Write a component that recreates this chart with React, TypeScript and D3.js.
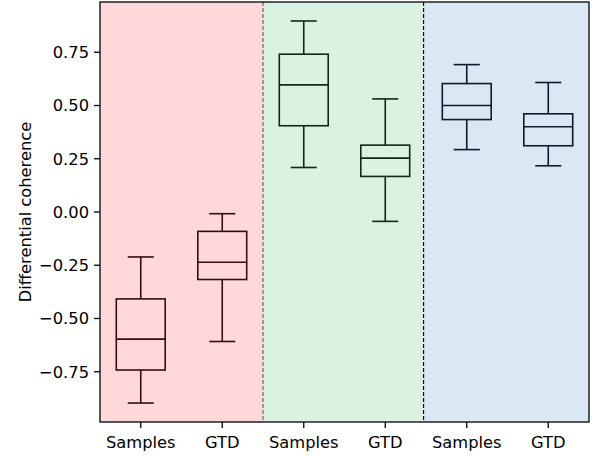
import React from 'react';
import * as d3 from 'd3';

const categories = ['Samples', 'GTD', 'Samples', 'GTD', 'Samples', 'GTD'];
const whiskerHigh = [-0.211, -0.008, 0.897, 0.531, 0.692, 0.608];
const q3 = [-0.408, -0.091, 0.741, 0.314, 0.603, 0.461];
const medians = [-0.597, -0.236, 0.597, 0.253, 0.5, 0.4];
const q1 = [-0.742, -0.317, 0.405, 0.167, 0.434, 0.311];
const whiskerLow = [-0.897, -0.608, 0.209, -0.044, 0.293, 0.217];
const groupOf = [0, 0, 1, 1, 2, 2];

const regionBounds = [-0.5, 1.5, 3.47, 5.5];
const regionFill = ['#ffd9d9', '#dbf2e3', '#d9e8f3'];
const strokeColors = ['#3b0a0f', '#0c2a17', '#0b1b2b'];
const sepColors = ['#666666', '#000000'];
const yTicks = [-0.75, -0.5, -0.25, 0, 0.25, 0.5, 0.75];

export default function App() {
  const W = 594;
  const H = 456;
  const margin = { top: 2, right: 5, bottom: 34, left: 100 };
  const x = d3.scaleLinear().domain([-0.5, 5.5]).range([margin.left, W - margin.right]);
  const y = d3.scaleLinear().domain([-0.986, 0.986]).range([H - margin.bottom, margin.top]);
  const boxW = 0.6;
  const capW = 0.32;
  const font = 'DejaVu Sans, sans-serif';
  const fs = 16.3;

  return (
    <svg width={W} height={H} style={{ position: 'absolute', left: 0, top: 0 }}>
      {regionFill.map((c, i) => (
        <rect key={i} x={x(regionBounds[i])} y={y(0.986)} width={x(regionBounds[i + 1]) - x(regionBounds[i])}
          height={y(-0.986) - y(0.986)} fill={c} />
      ))}
      {sepColors.map((c, i) => (
        <line key={i} x1={x(regionBounds[i + 1])} x2={x(regionBounds[i + 1])} y1={y(0.986)} y2={y(-0.986)}
          stroke={c} strokeWidth={1.2} strokeDasharray="4,2" />
      ))}
      {categories.map((c, i) => {
        const s = strokeColors[groupOf[i]];
        return (
          <g key={i} stroke={s} strokeWidth={1.6} fill="none">
            <line x1={x(i)} x2={x(i)} y1={y(whiskerHigh[i])} y2={y(q3[i])} />
            <line x1={x(i)} x2={x(i)} y1={y(q1[i])} y2={y(whiskerLow[i])} />
            <line x1={x(i - capW / 2)} x2={x(i + capW / 2)} y1={y(whiskerHigh[i])} y2={y(whiskerHigh[i])} />
            <line x1={x(i - capW / 2)} x2={x(i + capW / 2)} y1={y(whiskerLow[i])} y2={y(whiskerLow[i])} />
            <rect x={x(i - boxW / 2)} y={y(q3[i])} width={x(boxW) - x(0)} height={y(q1[i]) - y(q3[i])} />
            <line x1={x(i - boxW / 2)} x2={x(i + boxW / 2)} y1={y(medians[i])} y2={y(medians[i])} />
          </g>
        );
      })}
      <rect x={margin.left} y={margin.top} width={W - margin.left - margin.right} height={H - margin.top - margin.bottom}
        fill="none" stroke="#000" strokeWidth={1.3} />
      {yTicks.map((t) => (
        <g key={t}>
          <line x1={margin.left - 6} x2={margin.left} y1={y(t)} y2={y(t)} stroke="#000" strokeWidth={1.3} />
          <text x={margin.left - 11} y={y(t)} dy="0.36em" textAnchor="end" fontFamily={font} fontSize={fs} fill="#000">
            {d3.format('.2f')(t).replace('-', '\u2212')}
          </text>
        </g>
      ))}
      {categories.map((c, i) => (
        <g key={i}>
          <line x1={x(i)} x2={x(i)} y1={H - margin.bottom} y2={H - margin.bottom + 6} stroke="#000" strokeWidth={1.3} />
          <text x={x(i)} y={H - margin.bottom + 26} textAnchor="middle" fontFamily={font} fontSize={fs} fill="#000">{c}</text>
        </g>
      ))}
      <text transform={`translate(25,${y(0)}) rotate(-90)`} textAnchor="middle" fontFamily={font} fontSize={fs}
        dy="0.36em" fill="#000">Differential coherence</text>
    </svg>
  );
}
